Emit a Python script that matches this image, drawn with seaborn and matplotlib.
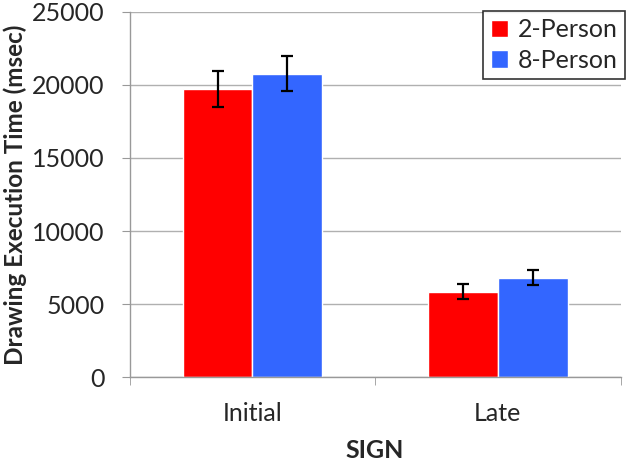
import matplotlib
matplotlib.use("Agg")
import matplotlib.pyplot as plt
import seaborn as sns
import pandas as pd
import numpy as np

categories = ["Initial", "Late"]
groups = ["2-Person", "8-Person"]
two_person = [19700, 5850]
eight_person = [20750, 6820]
two_person_err = [1250, 510]
eight_person_err = [1200, 500]

df = pd.DataFrame({
    "SIGN": categories * 2,
    "group": [groups[0]] * 2 + [groups[1]] * 2,
    "time": two_person + eight_person,
    "err": two_person_err + eight_person_err,
})

sns.set_style("white")
plt.rcParams["font.family"] = ["Lato", "DejaVu Sans"]

fig, ax = plt.subplots(figsize=(6.3, 4.66), dpi=100)
fig.subplots_adjust(left=0.206, right=0.985, top=0.975, bottom=0.19)

palette = {"2-Person": "#ff0000", "8-Person": "#3366ff"}
sns.barplot(data=df, x="SIGN", y="time", hue="group", hue_order=groups,
            order=categories, palette=palette, width=0.57, saturation=1,
            errorbar=None, ax=ax, zorder=2)

# error bars on top of each bar
for container, g in zip(ax.containers, groups):
    sub = df[df["group"] == g].set_index("SIGN").loc[categories]
    xs = [b.get_x() + b.get_width() / 2 for b in container]
    ax.errorbar(xs, sub["time"], yerr=sub["err"], fmt="none", ecolor="black",
                elinewidth=1.6, capsize=4, capthick=1.6, zorder=3)

ax.set_ylim(0, 25000)
ax.set_xlim(-0.5, 1.5)
ax.set_yticks(np.arange(0, 25001, 5000))
ax.yaxis.grid(True, color="#b0b0b0", linewidth=1)
ax.set_axisbelow(True)

for s in ["top", "right"]:
    ax.spines[s].set_visible(False)
for s in ["left", "bottom"]:
    ax.spines[s].set_color("#999999")
    ax.spines[s].set_linewidth(1)

ax.tick_params(axis="y", which="major", direction="out", length=6, color="#999999",
               labelsize=18, pad=12, left=True)
ax.tick_params(axis="x", which="major", length=0, labelsize=18, pad=18)
ax.set_xticks([-0.5, 0.5, 1.5], minor=True)
ax.tick_params(axis="x", which="minor", direction="out", length=6, color="#999999", bottom=True)

ax.set_ylabel("Drawing Execution Time (msec)", fontsize=17.5, fontweight="bold", labelpad=4)
ax.set_xlabel("SIGN", fontsize=18, fontweight="bold", labelpad=10)

leg = ax.legend(loc="upper right", bbox_to_anchor=(1.01, 1.003), fontsize=18,
                frameon=True, fancybox=False, edgecolor="black", handlelength=0.7,
                handleheight=0.7, handletextpad=0.4, borderpad=0.3, labelspacing=0.3,
                borderaxespad=0)
leg.get_frame().set_linewidth(1.2)

fig.savefig("out.png", dpi=100)
